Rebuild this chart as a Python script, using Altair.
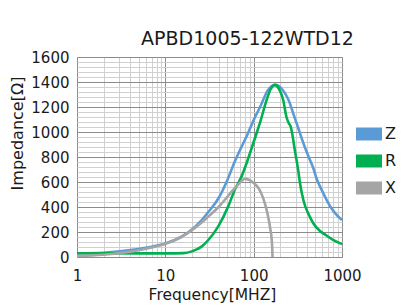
import altair as alt
import pandas as pd

# ---- data ----
series = ["Z", "R", "X"]
colors = ["#5B9BD5", "#00B050", "#A5A5A5"]

freq_z = [1, 2, 4, 7, 10, 15, 20, 25, 30, 40, 50, 60, 70, 85, 100, 120, 145, 160,
          175, 195, 215, 235, 257, 280, 320, 370, 420, 471, 514, 600, 728, 850, 1000]
imp_z = [30, 34, 55, 82, 108, 160, 220, 285, 352, 470, 610, 750, 855, 980, 1095, 1210,
         1335, 1368, 1380, 1365, 1332, 1290, 1229, 1150, 1030, 900, 800, 715, 630, 525,
         410, 345, 296]

freq_r = [1, 5, 10, 16, 20, 25.7, 30.7, 39.6, 51.4, 61, 73, 85, 100, 118, 140, 155,
          165, 174, 195, 216, 235, 250, 262, 275, 290, 319, 333, 365, 432, 473, 560,
          668, 800, 1000]
imp_r = [30, 29, 29, 31, 45, 83, 136, 243, 403, 536, 645, 770, 920, 1075, 1255, 1340,
         1368, 1375, 1340, 1256, 1120, 1070, 1045, 975, 870, 696, 600, 456, 323, 270,
         210, 172, 135, 103]

freq_x = [1, 2, 4, 7, 10, 12.8, 15, 20, 25, 30.6, 40, 47, 55, 61, 70, 79, 90, 100,
          108, 120, 137, 148, 155, 159, 162, 163.5]
imp_x = [8, 18, 42, 76, 105, 135, 158, 215, 268, 323, 400, 456, 515, 549, 595, 625,
         615, 592, 571, 520, 405, 300, 216, 160, 80, 0]

x_grid = [m * 10 ** e for e in range(3) for m in range(1, 10)] + [1000]
decades = [1, 10, 100, 1000]
y_grid = list(range(0, 1601, 40))
y_labels = list(range(0, 1601, 200))

FONT = "DejaVu Sans"
TXT = "#1a1a1a"

dec_test = "indexof([1,10,100,1000], datum.value) >= 0"
ylab_test = "datum.value % 200 === 0"

x_scale = alt.Scale(type="log", domain=[1, 1000], nice=False)
y_scale = alt.Scale(domain=[0, 1600], nice=False, zero=True)

x_axis = alt.Axis(
    values=x_grid, format="d",
    labelExpr=f"{dec_test} ? datum.label : ''",
    labelOverlap=False, labelFlush=False, ticks=False, domain=False,
    gridColor={"condition": {"test": dec_test, "value": "#8C8C8C"}, "value": "#D0D0D0"},
    gridOpacity=1, gridWidth=1,
    labelFontSize=15, labelPadding=11, labelColor=TXT, labelFont=FONT,
    titleFontSize=15.5, titleFontWeight="normal", titleColor=TXT, titleFont=FONT,
    titleX=135, titleY=42, titleBaseline="alphabetic", titleAlign="center",
)
y_axis = alt.Axis(
    values=y_grid, format="d",
    labelExpr=f"{ylab_test} ? datum.label : ''",
    labelOverlap=False, labelFlush=False, ticks=False, domain=False,
    gridColor={"condition": {"test": ylab_test, "value": "#8C8C8C"}, "value": "#D0D0D0"},
    gridOpacity=1, gridWidth=1,
    labelFontSize=15, labelPadding=8, labelColor=TXT, labelFont=FONT,
    titleFontSize=16, titleFontWeight="normal", titleColor=TXT, titleFont=FONT,
    titleX=-60, titleY=76, titleAngle=-90, titleAlign="center", titleBaseline="middle",
)

legend = alt.Legend(
    title=None, orient="none", legendX=282, legendY=67,
    symbolType="M-1.5,-0.5H1.5V0.5H-1.5Z", symbolSize=169, symbolStrokeWidth=6.5,
    labelFontSize=16, labelColor=TXT, labelFont=FONT, labelOffset=6,
    rowPadding=-20,
)


def layer(freq, vals, name):
    df = pd.DataFrame({"f": freq, "v": vals, "s": name})
    return alt.Chart(df).mark_line(strokeWidth=2.6, interpolate="monotone").encode(
        x=alt.X("f:Q", scale=x_scale, axis=x_axis, title="Frequency[MHZ]"),
        y=alt.Y("v:Q", scale=y_scale, axis=y_axis, title="Impedance[Ω]"),
        color=alt.Color("s:N", scale=alt.Scale(domain=series, range=colors), legend=legend),
    )


chart = alt.layer(
    layer(freq_z, imp_z, "Z"),
    layer(freq_r, imp_r, "R"),
    layer(freq_x, imp_x, "X"),
).properties(
    width=265, height=200,
    autosize=alt.AutoSizeParams(type="none"),
    padding={"left": 69, "top": 49, "right": 62, "bottom": 48},
    title=alt.TitleParams("APBD1005-122WTD12", anchor="middle", dx=38, dy=26, fontSize=19,
                          fontWeight="normal", baseline="alphabetic", offset=12,
                          color=TXT, font=FONT),
).configure(font=FONT).configure_view(strokeWidth=0)

chart.save("out.html", embed_options={"renderer": "svg", "actions": False})
